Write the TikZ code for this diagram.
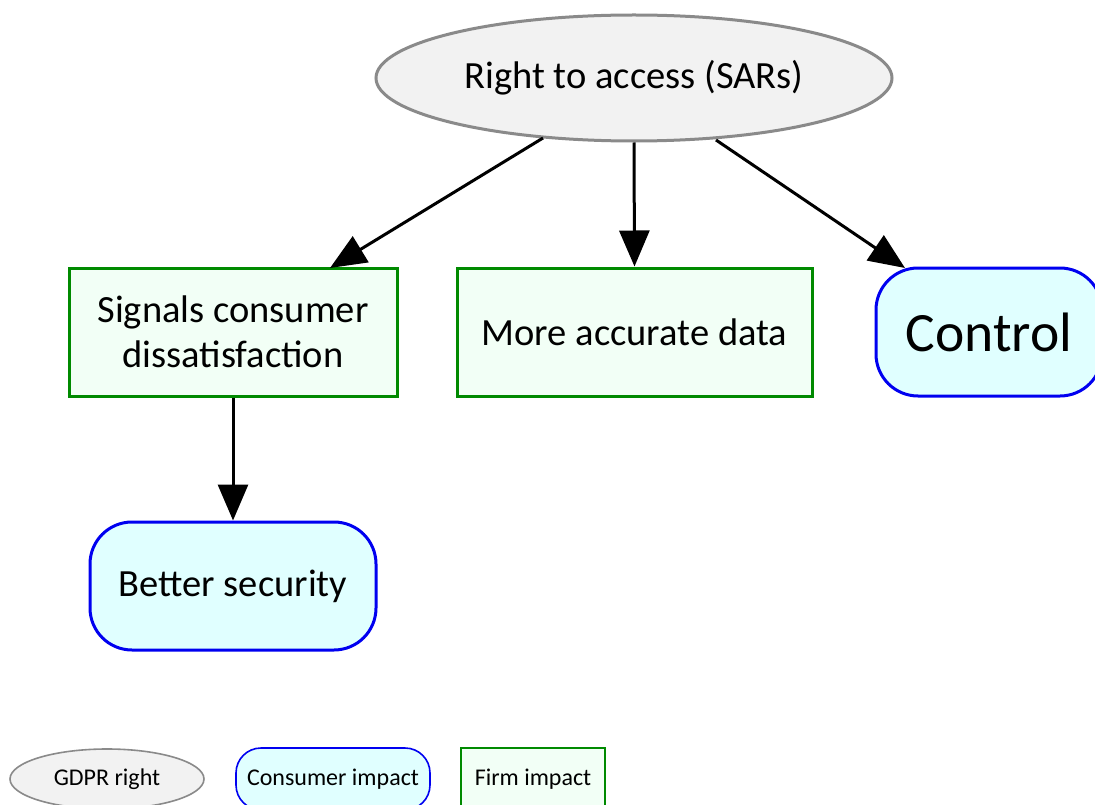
\documentclass[tikz,border=0pt]{standalone}
\usepackage{fontspec}
\setmainfont{Carlito}
\usetikzlibrary{arrows.meta,shapes.geometric}
\definecolor{gfill}{HTML}{F2F2F2}
\definecolor{gline}{HTML}{8A8A8A}
\definecolor{cfill}{HTML}{E0FFFF}
\definecolor{cline}{HTML}{0000F0}
\definecolor{ffill}{HTML}{F2FFF6}
\definecolor{fline}{HTML}{008A00}
\tikzset{
  gdpr/.style={draw=gline, fill=gfill, ellipse, line width=3pt, inner sep=0pt},
  consumer/.style={draw=cline, fill=cfill, rounded corners=42pt, line width=3pt, inner sep=0pt},
  firm/.style={draw=fline, fill=ffill, line width=3pt, inner sep=0pt},
  conn/.style={line width=3pt, -{Triangle[length=36pt,width=30pt]}},
  legtext/.style={font=\fontsize{24}{28}\selectfont, line width=1.6pt},
}
\begin{document}
\begin{tikzpicture}[x=1pt,y=-1pt, every node/.style={font=\fontsize{38.5}{45}\selectfont, align=center}]
\useasboundingbox (0,0) rectangle (1095,805);
\clip (0,0) rectangle (1095,805);
\node[gdpr, minimum width=516pt, minimum height=126pt] (r) at (634,78) {Right to access (SARs)};
\node[firm, minimum width=328pt, minimum height=128pt] (s) at (233,332) {Signals consumer\\dissatisfaction};
\node[firm, minimum width=355pt, minimum height=128pt] (m) at (634.5,332) {More accurate data};
\node[consumer, minimum width=226pt, minimum height=128pt, font=\fontsize{55.5}{64}\selectfont] (c) at (989,332) {Control};
\node[consumer, minimum width=286pt, minimum height=128pt] (b) at (233,586) {Better security};
\coordinate (rl) at (543,138);
\coordinate (rr) at (716,140);
\coordinate (sn) at (330,268);
\coordinate (cn) at (905,268);
\draw[conn] (rl) -- (sn);
\draw[conn] (r.south) -- (m.north);
\draw[conn] (rr) -- (cn);
\draw[conn] (s.south) -- (b.north);
% legend
\node[gdpr, legtext, minimum width=194pt, minimum height=60pt] (lg) at (107,779) {GDPR right};
\node[consumer, legtext, rounded corners=25pt, minimum width=194pt, minimum height=62pt] (lc) at (333,779) {Consumer impact};
\node[firm, legtext, minimum width=144pt, minimum height=62pt] (lf) at (533,779) {Firm impact};
\end{tikzpicture}
\end{document}
